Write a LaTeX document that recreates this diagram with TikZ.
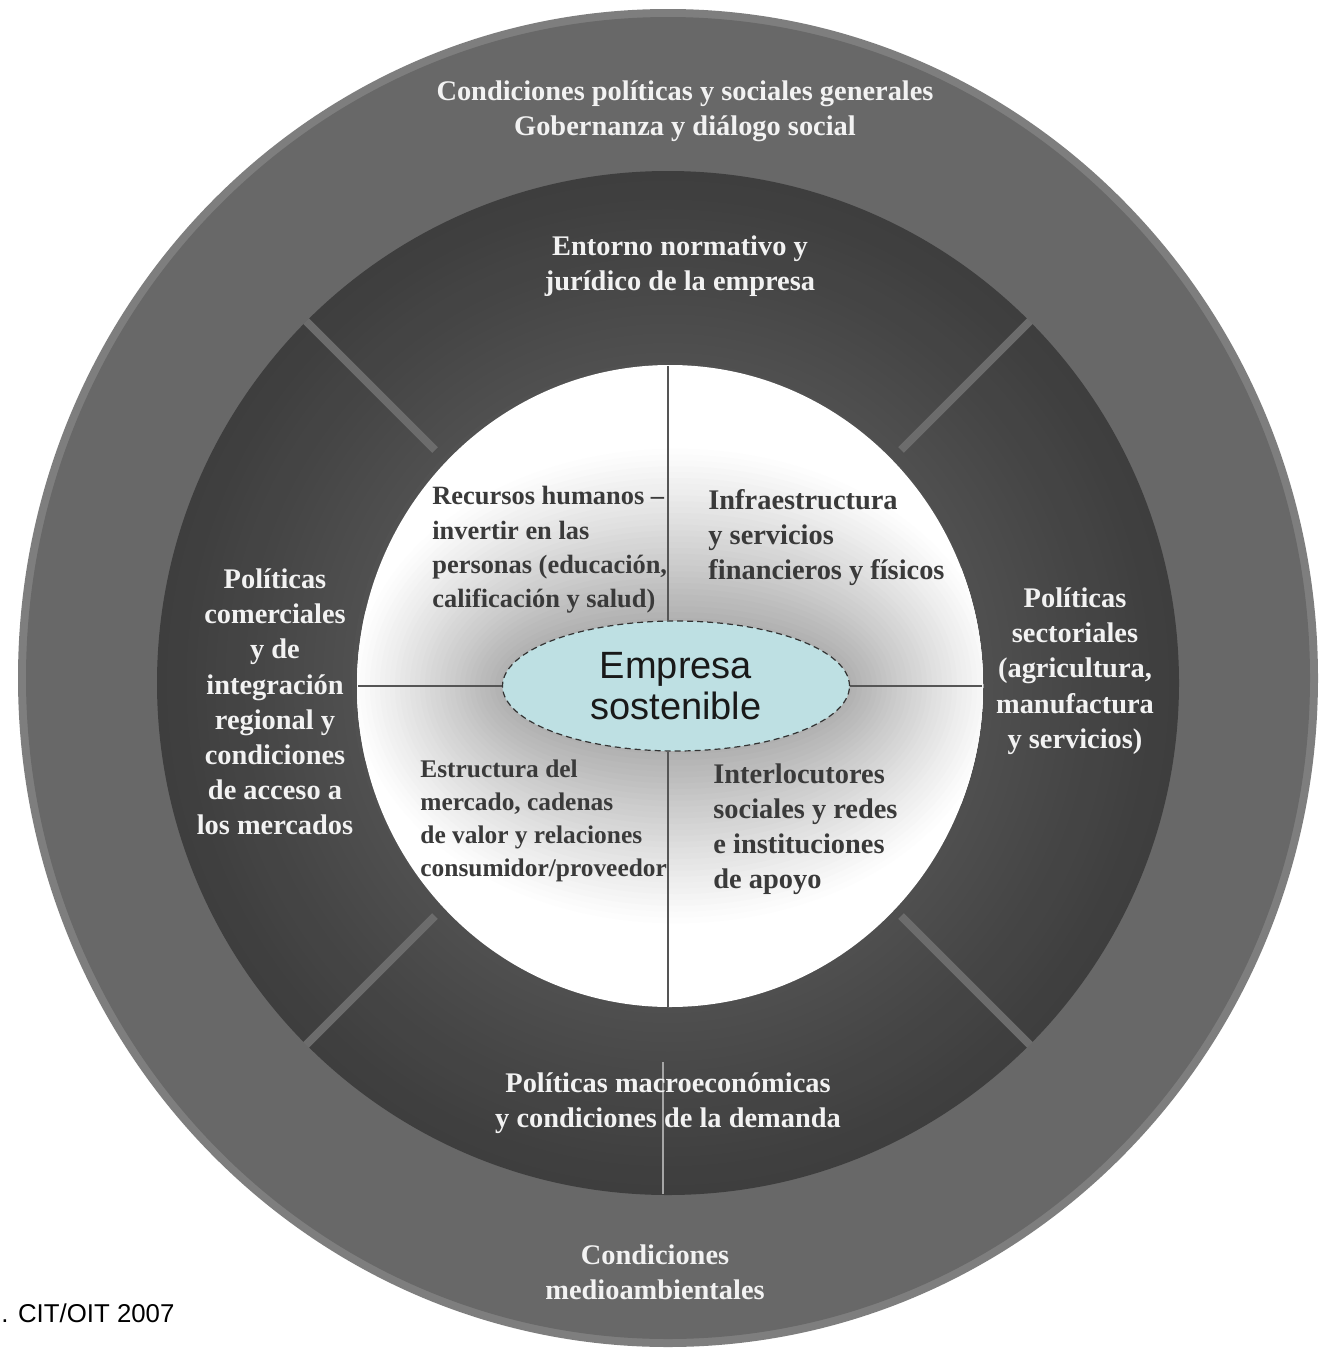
\documentclass[tikz,border=0pt]{standalone}
\usepackage{fontspec}
\setmainfont{Liberation Serif}
\newfontfamily\arialf{Liberation Sans}
\usetikzlibrary{shapes.geometric}
\pgfdeclarelayer{back}
\pgfdeclarelayer{mid}
\pgfsetlayers{back,mid,main}
\definecolor{outerg}{HTML}{686868}
\definecolor{rimg}{HTML}{7E7E7E}
\definecolor{darkg}{HTML}{3E3E3E}
\definecolor{darkin}{HTML}{515151}
\definecolor{sepg}{HTML}{6C6C6C}
\definecolor{halog}{HTML}{B0B0B0}
\definecolor{empf}{HTML}{BEE0E3}
\definecolor{innertxt}{HTML}{3A3A3A}
\definecolor{axisg}{HTML}{555555}
\definecolor{ringtext}{HTML}{F2F2F2}
\begin{document}
\begin{tikzpicture}[x=0.5pt,y=-0.5pt,
  ringtxt/.style={text=ringtext, font=\bfseries\fontsize{14.2}{17.6}\selectfont, align=center, inner sep=0},
  intxt/.style={text=innertxt, font=\bfseries\fontsize{14.2}{17.5}\selectfont, align=left, inner sep=0, anchor=west},
  intxtsmall/.style={intxt, font=\bfseries\fontsize{13.2}{17.2}\selectfont},
  sepline/.style={draw=sepg, line width=4pt},
  axisline/.style={draw=axisg, line width=1pt},
  lightline/.style={draw=black!35, line width=0.8pt}
]
\begin{pgfonlayer}{back}
\fill[white] (0,0) rectangle (1324,1349);
\end{pgfonlayer}
\useasboundingbox (0,0) rectangle (1324,1349);
\coordinate (co) at (668,678);
\coordinate (cd) at (668,683);
\coordinate (cw) at (670,686);
\coordinate (ce) at (676,686);
\begin{pgfonlayer}{back}
% outer ring
\fill[rimg] (co) ellipse (325pt and 334.5pt);
\fill[outerg] (co) ellipse (321pt and 330.5pt);
% dark ring with soft gradient toward the centre
\foreach \i in {20,19,...,0}{
  \pgfmathsetmacro\tt{\i/20}
  \pgfmathsetmacro\rx{(316+195*\tt)/2}
  \pgfmathsetmacro\ry{(321+191*\tt)/2}
  \pgfmathsetmacro\pc{100*\tt^0.8}
  \fill[darkg!\pc!darkin] (cd) ellipse (\rx pt and \ry pt);
}
\end{pgfonlayer}
% separators
\coordinate (s1a) at (435,450); \coordinate (s1b) at (306,321);
\coordinate (s2a) at (901,450); \coordinate (s2b) at (1030,321);
\coordinate (s3a) at (435,916); \coordinate (s3b) at (306,1045);
\coordinate (s4a) at (901,916); \coordinate (s4b) at (1030,1045);
\begin{pgfonlayer}{back}
\draw[sepline] (s1a) -- (s1b);
\draw[sepline] (s2a) -- (s2b);
\draw[sepline] (s3a) -- (s3b);
\draw[sepline] (s4a) -- (s4b);
% white circle with grey halo round the centre
\fill[white] (cw) ellipse (156.5pt and 160.5pt);
\begin{scope}
\clip (cw) ellipse (156.5pt and 160.5pt);
\foreach \i in {30,29,...,0}{
  \pgfmathsetmacro\tt{\i/30}
  \pgfmathsetmacro\rx{(176+150*\tt)/2}
  \pgfmathsetmacro\ry{(68+175*\tt)/2}
  \pgfmathsetmacro\pc{100*(1-\tt)^1.1}
  \fill[halog!\pc!white] (ce) ellipse (\rx pt and \ry pt);
}
\end{scope}
\end{pgfonlayer}
% bottom divider in dark ring
\coordinate (bT) at (663,1062);
\coordinate (bB) at (663,1194);
\draw[lightline] (bT) -- (bB);
% centre node
\node[draw=black!80, densely dashed, line width=0.6pt, fill=empf, ellipse,
  minimum width=173.5pt, minimum height=65pt, inner sep=0,
  font=\arialf\fontsize{19}{20.5}\selectfont, text=black!90, align=center]
  (emp) at (ce) {Empresa\\sostenible};
% axes
\coordinate (wL) at (358,686);
\coordinate (wR) at (982,686);
\coordinate (wT) at (668,366);
\coordinate (wB) at (668,1007);
\begin{pgfonlayer}{mid}
\draw[axisline] (wL) -- (emp.west);
\draw[axisline] (wR) -- (emp.east);
\draw[axisline] (wT) -- (wT |- emp.north);
\draw[axisline] (wB) -- (wB |- emp.south);
\end{pgfonlayer}
% ring texts
\node[ringtxt] (tOut) at (685,111) {Condiciones políticas y sociales generales\\Gobernanza y diálogo social};
\node[ringtxt] (tNorm) at (680,266) {Entorno normativo y\\jurídico de la empresa};
\node[ringtxt] (tLeft) at (275,702) {Políticas\\comerciales\\y de\\integración\\regional y\\condiciones\\de acceso a\\los mercados};
\node[ringtxt] (tRight) at (1075,671) {Políticas\\sectoriales\\(agricultura,\\manufactura\\y servicios)};
\node[ringtxt] (tMacro) at (668,1103) {Políticas macroeconómicas\\y condiciones de la demanda};
\node[ringtxt] (tEnv) at (655,1272) {Condiciones\\medioambientales};
% inner texts
\node[intxtsmall] (tRH) at (432,550) {Recursos humanos –\\invertir en las\\personas (educación,\\calificación y salud)};
\node[intxt] (tInf) at (708,538) {Infraestructura\\y servicios\\financieros y físicos};
\node[intxtsmall, font=\bfseries\fontsize{12.7}{16.5}\selectfont] (tEst) at (420,821) {Estructura del\\mercado, cadenas\\de valor y relaciones\\consumidor/proveedor};
\node[intxt] (tInt) at (713,829) {Interlocutores\\sociales y redes\\e instituciones\\de apoyo};
% source
\node[font=\arialf\fontsize{12.9}{15}\selectfont, anchor=west, inner sep=0] (src) at (1,1313) {. CIT/OIT 2007};
\end{tikzpicture}
\end{document}
